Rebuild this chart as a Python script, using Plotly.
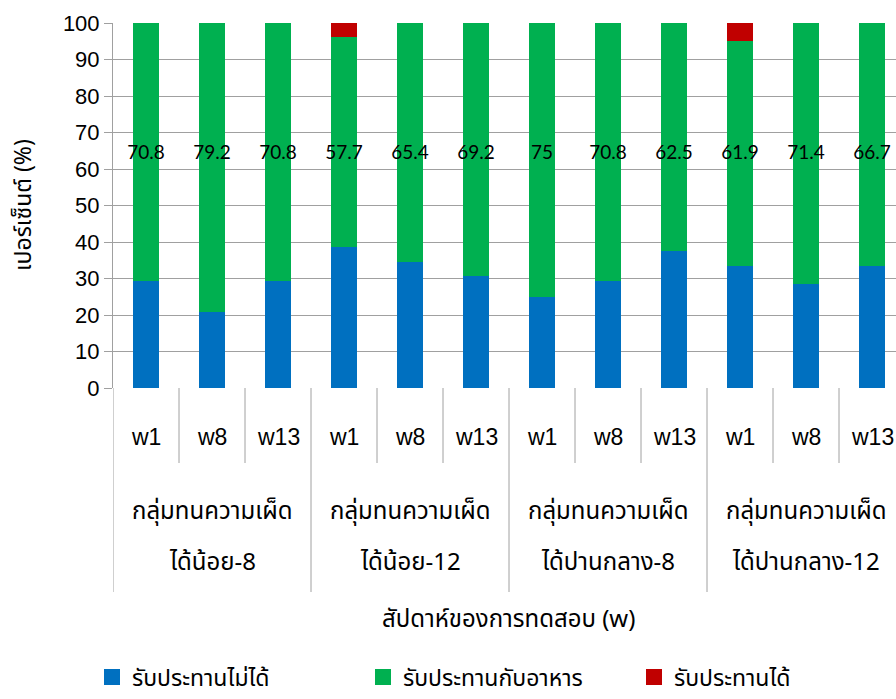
import plotly.graph_objects as go

# Spice-tolerance groups and test weeks
groups_line1 = ["กลุ่มทนความเผ็ด"] * 4
groups_line2 = ["ได้น้อย-8", "ได้น้อย-12", "ได้ปานกลาง-8", "ได้ปานกลาง-12"]
weeks = ["w1", "w8", "w13"]

# Percentage of responses per group/week
cannot_eat = [29.2, 20.8, 29.2, 38.5, 34.6, 30.8, 25, 29.2, 37.5, 33.3, 28.6, 33.3]
with_food = [70.8, 79.2, 70.8, 57.7, 65.4, 69.2, 75, 70.8, 62.5, 61.9, 71.4, 66.7]
can_eat = [0, 0, 0, 3.8, 0, 0, 0, 0, 0, 4.8, 0, 0]

series_names = ["รับประทานไม่ได้", "รับประทานกับอาหาร", "รับประทานได้"]
colors = ["#0070C0", "#00B050", "#C00000"]

y_ticks = list(range(0, 101, 10))

THAI = "Noto Sans Thai, Loma, Garuda, Tahoma, DejaVu Sans, sans-serif"
LATIN = "Liberation Sans, Arial, sans-serif"
GRID = "#A0A0A0"

n = len(cannot_eat)
xs = list(range(n))

fig = go.Figure()
for name, vals, col in zip(series_names, [cannot_eat, with_food, can_eat], colors):
    fig.add_trace(go.Bar(
        x=xs, y=vals, name=name, marker=dict(color=col, line=dict(width=0)),
        width=0.39, hoverinfo="y", showlegend=False, legendgroup=name,
    ))

# Legend keys drawn as large square markers
for name, col in zip(series_names, colors):
    fig.add_trace(go.Scatter(
        x=[None], y=[None], mode="markers", name=name, legendgroup=name,
        marker=dict(symbol="square", size=20, color=col),
    ))

# Value labels for the middle series, set at a common height
fig.add_trace(go.Scatter(
    x=xs, y=[64] * n, mode="text", text=[f"{v:g}" for v in with_food],
    textfont=dict(family="Lato, Open Sans, sans-serif", size=19, color="black"),
    showlegend=False, hoverinfo="skip",
))

W, H = 896, 699
left, top, bottom_px = 113, 23, 388
plot_h = bottom_px - top
unit_px = 66.0
x_max = -0.5 + (W - left) / unit_px


def py(pix):
    """Convert an absolute pixel row into paper y."""
    return (bottom_px - pix) / plot_h


def px(pix):
    return (pix - left) / (W - left)


annotations = []
shapes = []

# Week labels under each bar
for i in xs:
    annotations.append(dict(
        x=i, y=py(437), xref="x", yref="paper", text=weeks[i % 3], showarrow=False,
        font=dict(family=LATIN, size=23, color="#000"), yanchor="middle",
    ))

# Group labels (two lines each)
for g in range(len(groups_line2)):
    cx = 3 * g + 1
    annotations.append(dict(
        x=cx, y=py(512), xref="x", yref="paper", text=groups_line1[g], showarrow=False,
        font=dict(family=THAI, size=24, color="#000"), yanchor="middle",
    ))
    annotations.append(dict(
        x=cx, y=py(563), xref="x", yref="paper", text=groups_line2[g], showarrow=False,
        font=dict(family=THAI, size=24, color="#000"), yanchor="middle",
    ))

# Category separators below the axis
for k in range(n):
    xb = k - 0.5
    long_line = (k % 3 == 0)
    shapes.append(dict(
        type="line", xref="x", yref="paper", x0=xb, x1=xb,
        y0=0, y1=py(592) if long_line else py(463),
        line=dict(color=GRID, width=1),
    ))

# Axis titles
annotations.append(dict(
    x=px(508), y=py(620), xref="paper", yref="paper",
    text="สัปดาห์ของการทดสอบ (w)", showarrow=False,
    font=dict(family=THAI, size=24, color="#000"), yanchor="middle",
))
annotations.append(dict(
    x=px(24), y=py(205), xref="paper", yref="paper",
    text="เปอร์เซ็นต์ (%)", showarrow=False, textangle=-90,
    font=dict(family=THAI, size=23, color="#000"), xanchor="center", yanchor="middle",
))

fig.update_layout(
    width=W, height=H,
    margin=dict(l=left, r=0, t=top, b=H - bottom_px, autoexpand=False),
    barmode="stack",
    plot_bgcolor="white", paper_bgcolor="white",
    showlegend=True,
    legend=dict(
        orientation="h", x=px(92), y=py(677), xanchor="left", yanchor="middle",
        font=dict(family=THAI, size=23, color="#000"),
        traceorder="normal", entrywidth=226, entrywidthmode="pixels",
        itemwidth=30,
    ),
    annotations=annotations,
    shapes=shapes,
    xaxis=dict(
        range=[-0.5, x_max], showticklabels=False, ticks="", showgrid=False,
        zeroline=False, showline=False, fixedrange=True,
    ),
    yaxis=dict(
        range=[0, 100], tickvals=y_ticks, ticks="outside", ticklen=8,
        tickcolor=GRID, showgrid=True, gridcolor=GRID, gridwidth=1,
        showline=True, linecolor=GRID, linewidth=1, zeroline=False,
        tickfont=dict(family=LATIN, size=22, color="#000"),
    ),
)

fig.write_html("out.html")
